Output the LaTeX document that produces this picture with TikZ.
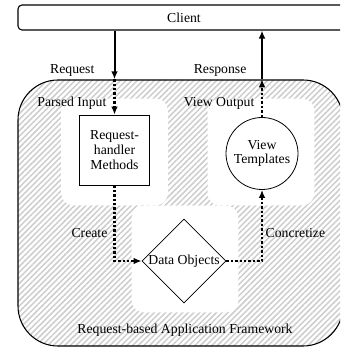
\documentclass[tikz,border=0pt]{standalone}
\usepackage{fontspec}
\setmainfont{Liberation Serif}
\usetikzlibrary{shapes.geometric, arrows.meta, patterns.meta, fit}

\begin{document}
\begin{tikzpicture}[x=0.75pt, y=-0.75pt,
  every node/.style={font=\fontsize{10.3}{11}\selectfont},
  clientbox/.style={draw, line width=0.8pt, rounded corners=3pt, inner sep=0pt,
    minimum width=249pt, minimum height=18.75pt},
  framebox/.style={draw, line width=0.8pt, rounded corners=30pt, inner sep=0pt,
    pattern={Lines[angle=45, distance=3pt, line width=1.1pt]}, pattern color=black!20},
  clearing/.style={fill=white, rounded corners=9pt, minimum size=80pt, inner sep=0pt},
  handler/.style={draw, line width=0.6pt, minimum width=53pt, minimum height=52.5pt,
    align=center, inner sep=0pt},
  viewnode/.style={circle, draw, line width=0.6pt, minimum size=54pt, inner sep=0pt, align=center},
  datanode/.style={diamond, draw, line width=0.6pt, minimum width=63pt, minimum height=63pt, inner sep=0pt},
  link/.style={line width=1.5pt, -{Latex[length=6pt, width=5pt]}},
  flow/.style={line width=1.8pt, dash pattern=on 1.8pt off 1.5pt, -{Latex[length=6pt, width=5pt]}},
  tag/.style={inner sep=1pt}]

  \useasboundingbox (0,0) rectangle (340,348);
  \clip (0,0) rectangle (340,348);

  % outer boxes
  \node[clientbox] (client) at (184,17.5) {Client};
  \node[framebox, fit={(18,80) (343,346)}] (frame) {};

  % plain areas behind the components
  \node[clearing] (clearA) at (114.5,152) {};
  \node[clearing] (clearB) at (261,152) {};
  \node[clearing] (clearC) at (185,259) {};

  % components
  \node[handler] (box) at (114.5,150) {Request-\\handler\\Methods};
  \node[viewnode] (view) at (262,153.5) {View\\Templates};
  \node[datanode] (data) at (184,261) {Data Objects};

  % labels
  \node[tag, anchor=east] (lblReq) at (96,70) {Request};
  \node[tag, anchor=east] (lblResp) at (248,70) {Response};
  \node[tag, anchor=east] (lblParsed) at (108,103) {Parsed Input};
  \node[tag, anchor=east] (lblView) at (256,103) {View Output};
  \node[tag, anchor=east] (lblCreate) at (109,233) {Create};
  \node[tag, anchor=west] (lblConc) at (264,233) {Concretize};
  \node (lblFrame) at (185,330) {Request-based Application Framework};

  % connectors
  \coordinate (inPt) at (box.north |- frame.north);
  \coordinate (outPt) at (view.north |- frame.north);
  \draw[link] (client.south -| box.north) -- (inPt);
  \draw[flow] (inPt) -- (box.north);
  \draw[flow] (view.north) -- (outPt);
  \draw[link] (outPt) -- (client.south -| view.north);
  \draw[flow] (box.south) |- (data.west);
  \draw[flow] (data.east) -| (view.south);
\end{tikzpicture}
\end{document}
